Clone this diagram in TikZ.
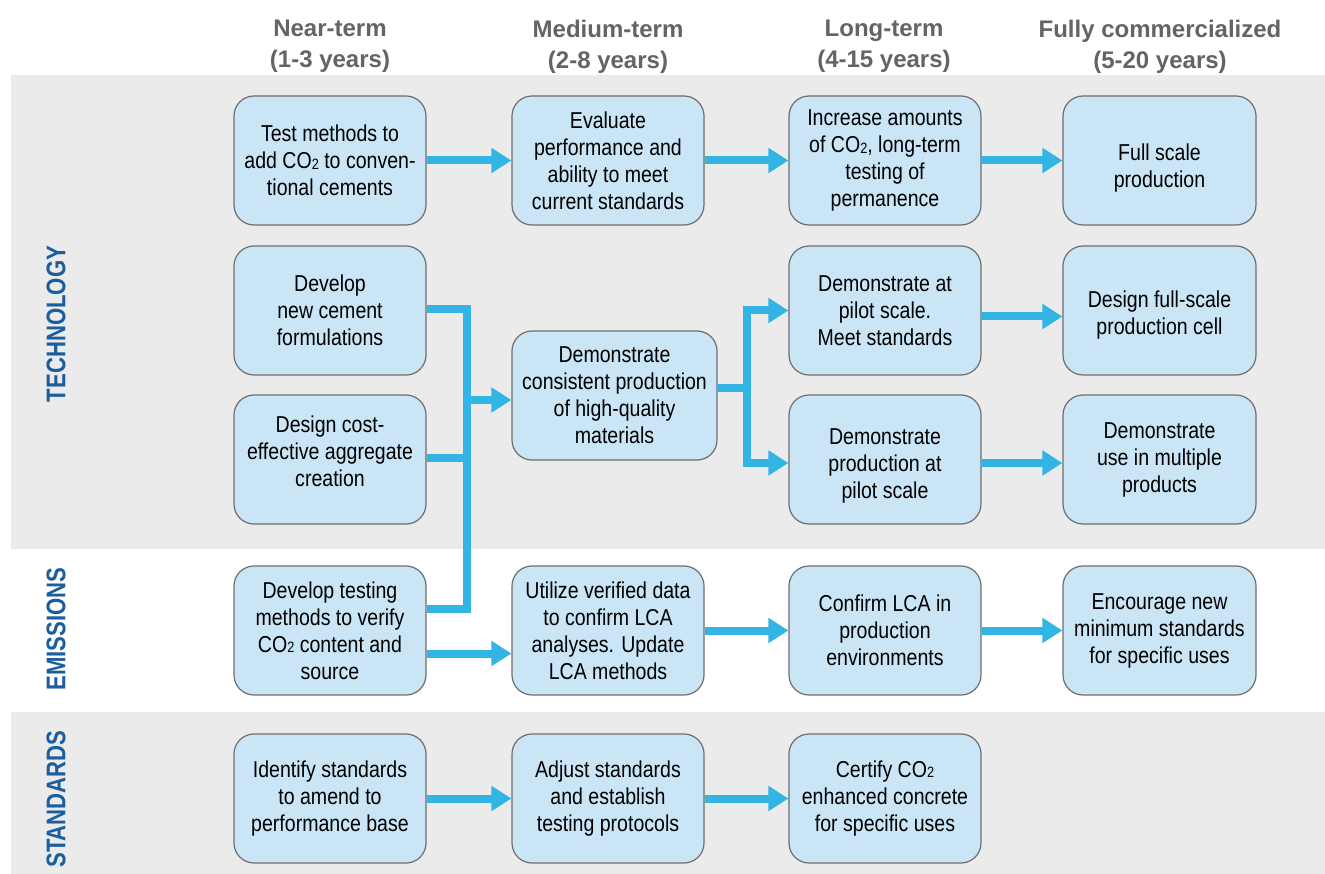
\documentclass[tikz,border=0pt]{standalone}
\usepackage{fontspec}
\setmainfont{Liberation Sans}
\newfontfamily\boxfont[FakeStretch=0.85]{Liberation Sans}
\newfontfamily\sidefont[FakeStretch=0.82]{Liberation Sans}
\usetikzlibrary{arrows.meta}
\definecolor{bandgray}{RGB}{235,235,235}
\definecolor{boxfill}{RGB}{201,229,246}
\definecolor{boxline}{RGB}{110,110,110}
\definecolor{arrowblue}{RGB}{50,180,228}
\definecolor{sideblue}{RGB}{27,94,158}
\definecolor{headgray}{RGB}{100,100,100}
\newcommand\COtwo{CO\raisebox{-0.5pt}{\fontsize{15}{15}\selectfont 2}}
\newcommand\lines[1]{\begin{tabular}{@{}c@{}}#1\end{tabular}}
\tikzset{
  stepbox/.style={draw=boxline, line width=1.2pt, fill=boxfill, rounded corners=20pt,
    minimum width=192pt, minimum height=129pt, inner sep=0pt, align=center,
    font=\boxfont\fontsize{23}{27}\selectfont},
  header/.style={align=center, inner sep=0pt, text=headgray,
    font=\bfseries\fontsize{24}{31}\selectfont},
  sidelabel/.style={rotate=90, inner sep=0pt, text=sideblue,
    font=\sidefont\bfseries\fontsize{27}{27}\selectfont},
  conn/.style={draw=arrowblue, line width=8pt},
  arr/.style={conn, -{Triangle[length=20pt,width=24pt]}}
}
\begin{document}
\begin{tikzpicture}[x=1pt,y=-1pt]
\useasboundingbox (0,0) rectangle (1325,874);
\fill[white] (0,0) rectangle (1325,874);
% bands
\fill[bandgray] (11,75) rectangle (1325,549);
\fill[bandgray] (11,712) rectangle (1325,874);
% headers
\node[header] (h1) at (330,46.5) {Near-term\\(1-3 years)};
\node[header] (h2) at (608,46.5) {Medium-term\\(2-8 years)};
\node[header] (h3) at (884,46.5) {Long-term\\(4-15 years)};
\node[header] (h4) at (1160,46.5) {Fully commercialized\\(5-20 years)};
% side labels
\node[sidelabel] (lt) at (56,324) {TECHNOLOGY};
\node[sidelabel] (le) at (56,629) {EMISSIONS};
\node[sidelabel] (ls) at (56,799) {STANDARDS};
% technology row 1
\node[stepbox] (tm) at (330,160.5) {Test methods to\\add \COtwo{} to conven-\\tional cements};
\node[stepbox] (ep) at (608,160.5) {Evaluate\\performance and\\ability to meet\\current standards};
\node[stepbox] (ia) at (885,160.5) {Increase amounts\\of \COtwo, long-term\\testing of\\permanence};
\node[stepbox, minimum width=193pt] (fs) at (1159.5,160.5) {\lines{\rule{0pt}{34.9pt}Full scale\\production}};
% technology rows 2-3
\node[stepbox] (dnc) at (330,310.5) {Develop\\new cement\\formulations};
\node[stepbox] (dce) at (330,459.5) {\lines{Design cost-\\effective aggregate\\creation\rule[-18.1pt]{0pt}{18.1pt}}};
\node[stepbox, minimum width=205pt] (dcp) at (614.5,395.5) {Demonstrate\\consistent production\\of high-quality\\materials};
\node[stepbox] (dps) at (885,310.5) {Demonstrate at\\pilot scale.\\Meet standards};
\node[stepbox] (dpp) at (885,459.5) {\lines{\rule{0pt}{32.9pt}Demonstrate\\production at\\pilot scale}};
\node[stepbox, minimum width=193pt] (dfs) at (1159.5,310.5) {\lines{\rule{0pt}{28.9pt}Design full-scale\\production cell}};
\node[stepbox, minimum width=193pt] (dum) at (1159.5,459.5) {Demonstrate\\use in multiple\\products};
% emissions
\node[stepbox] (dtm) at (330,630.5) {Develop testing\\methods to verify\\\COtwo{} content and\\source};
\node[stepbox] (uvd) at (608,630.5) {Utilize verified data\\to confirm LCA\\analyses. Update\\LCA methods};
\node[stepbox] (cla) at (885,630.5) {Confirm LCA in\\production\\environments};
\node[stepbox, minimum width=193pt] (ens) at (1159.5,630.5) {Encourage new\\minimum standards\\for specific uses};
% standards
\node[stepbox] (isa) at (330,798.5) {Identify standards\\to amend to\\performance base};
\node[stepbox] (asp) at (608,798.5) {Adjust standards\\and establish\\testing protocols};
\node[stepbox] (cce) at (885,798.5) {Certify \COtwo\\enhanced concrete\\for specific uses};
% connectors row 1
\draw[arr] (tm.east) -- (ep.west);
\draw[arr] (ep.east) -- (ia.west);
\draw[arr] (ia.east) -- (fs.west);
% left bus
\coordinate (busx) at (467,0);
\coordinate (dtmA) at ([yshift=22pt]dtm.east);
\coordinate (dtmB) at ([yshift=-23pt]dtm.east);
\draw[conn] ([yshift=1.5pt]dnc.east) -| (busx |- dtmA) -- (dtmA);
\draw[conn] ([yshift=1.5pt]dce.east) -- ([yshift=1.5pt]dce.east -| busx);
\draw[arr] ([yshift=-4.5pt]dcp.west -| busx) -- ([yshift=-4.5pt]dcp.west);
\draw[arr] (dtmB) -- (dtmB -| uvd.west);
% right branch
\coordinate (brx) at (747,0);
\coordinate (dcpE) at ([yshift=7.5pt]dcp.east);
\draw[conn] (dcpE) -- (dcpE -| brx);
\draw[arr] (dcpE -| brx) |- (dps.west);
\draw[arr] (dcpE -| brx) |- ([yshift=-3.5pt]dpp.west);
\draw[arr] ([yshift=-6pt]dps.east) -- ([yshift=-6pt]dfs.west);
\draw[arr] ([yshift=-3.5pt]dpp.east) -- ([yshift=-3.5pt]dum.west);
% emissions / standards arrows
\draw[arr] (uvd.east) -- (cla.west);
\draw[arr] (cla.east) -- (ens.west);
\draw[arr] (isa.east) -- (asp.west);
\draw[arr] (asp.east) -- (cce.west);
\end{tikzpicture}
\end{document}
